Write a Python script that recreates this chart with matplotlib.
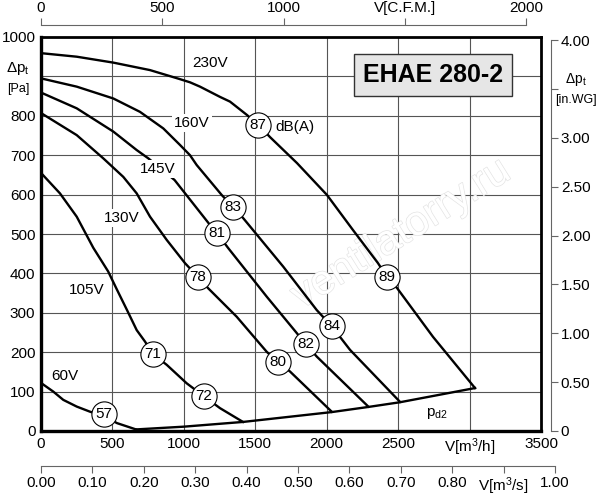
import matplotlib
matplotlib.use("Agg")
import matplotlib.pyplot as plt
import matplotlib.patheffects as pe

plt.rcParams['font.family'] = ['Liberation Sans', 'DejaVu Sans']
plt.rcParams['mathtext.fontset'] = 'custom'
plt.rcParams['mathtext.rm'] = 'Liberation Sans'
plt.rcParams['mathtext.it'] = 'Liberation Sans:italic'

# Kennlinien (V in m3/h, dp in Pa)
v230_x = [0, 250, 506, 763, 973, 1043, 1113, 1253, 1323, 1442, 1521, 1603, 1792, 2002,
          2184, 2359, 2422, 2492, 2744, 3038]
v230_y = [959, 950, 935, 916, 893, 885, 874, 848, 836, 802, 777, 746, 680, 599,
          510, 426, 391, 363, 239, 109]
v160_x = [0, 250, 506, 693, 856, 973, 1043, 1090, 1265, 1344, 1416, 1696, 1930, 2035, 2163, 2513]
v160_y = [895, 874, 844, 810, 768, 726, 700, 675, 599, 569, 540, 417, 307, 266, 206, 74]
v145_x = [0, 250, 506, 670, 751, 935, 1183, 1232, 1311, 1580, 1853, 1930, 2291]
v145_y = [859, 819, 760, 713, 692, 637, 523, 502, 464, 341, 221, 189, 62]
v130_x = [0, 250, 436, 576, 670, 763, 880, 1008, 1099, 1171, 1370, 1580, 1659, 1743, 2035]
v130_y = [807, 751, 692, 645, 603, 544, 485, 426, 391, 362, 290, 201, 175, 151, 49]
v105_x = [0, 133, 250, 366, 470, 530, 602, 670, 728, 784, 880, 1020, 1141, 1253, 1414]
v105_y = [655, 603, 544, 465, 405, 360, 307, 256, 227, 195, 168, 121, 88, 58, 23]
v60_x = [0, 86, 156, 250, 343, 441, 532, 665]
v60_y = [122, 100, 79, 62, 49, 38, 20, 4]
pd2_x = [665, 1000, 1414, 2035, 2291, 2513, 3038]
pd2_y = [4, 11, 23, 48, 61, 73, 109]

curves = [(v230_x, v230_y), (v160_x, v160_y), (v145_x, v145_y),
          (v130_x, v130_y), (v105_x, v105_y), (v60_x, v60_y), (pd2_x, pd2_y)]

# Spannungsbeschriftungen
volt_labels = ["230V", "160V", "145V", "130V", "105V", "60V"]
volt_x = [1183, 1057, 819, 567, 322, 168]
volt_y = [934, 782, 665, 541, 358, 139]

# Schallpegel dB(A)
db_labels = ["87", "83", "81", "78", "71", "72", "57", "80", "82", "84", "89"]
db_x = [1521, 1344, 1232, 1099, 784, 1141, 441, 1657, 1853, 2035, 2422]
db_y = [777, 569, 502, 391, 195, 88, 43, 174, 221, 266, 391]

x_ticks = [0, 500, 1000, 1500, 2000, 2500, 3000, 3500]
x_ticklabels = ["0", "500", "1000", "1500", "2000", "2500", "V[m$^3$/h]", "3500"]
y_ticks = [0, 100, 200, 300, 400, 500, 600, 700, 800, 900, 1000]
y_ticklabels = ["0", "100", "200", "300", "400", "500", "600", "700", "800", "", "1000"]
cfm_ticks = [0, 500, 1000, 1500, 2000]
cfm_ticklabels = ["0", "500", "1000", "V[C.F.M.]", "2000"]
ms_ticks = [0.0, 0.1, 0.2, 0.3, 0.4, 0.5, 0.6, 0.7, 0.8, 0.9, 1.0]
ms_ticklabels = ["0.00", "0.10", "0.20", "0.30", "0.40", "0.50", "0.60", "0.70",
                 "0.80", "V[m$^3$/s]", "1.00"]
wg_ticks = [0, 0.5, 1.0, 1.5, 2.0, 2.5, 3.0, 3.5, 4.0]
wg_ticklabels = ["0", "0.50", "1.00", "1.50", "2.00", "2.50", "3.00", "", "4.00"]

W, H = 600, 500
fig = plt.figure(figsize=(6, 5), dpi=100)
ax = fig.add_axes([41 / W, 69 / H, 500 / W, 394 / H])
ax.set_xlim(0, 3500)
ax.set_ylim(0, 1000)

for xv in [500, 1000, 1500, 2000, 2500, 3000]:
    ax.axvline(xv, color="#555555", lw=0.8, zorder=1)
for yv in [100, 200, 300, 400, 500, 600, 700, 800, 900]:
    ax.axhline(yv, color="#555555", lw=0.8, zorder=1)

# Wasserzeichen
ax.text(2520, 500, "ventilatorry.ru", rotation=32, fontsize=30, color="white",
        ha="center", va="center", zorder=1.5,
        path_effects=[pe.withStroke(linewidth=1.0, foreground="#e4e4e4")])

for cx, cy in curves:
    ax.plot(cx, cy, color="black", lw=1.7, zorder=3, solid_joinstyle="round")

for t, tx, ty in zip(volt_labels, volt_x, volt_y):
    ax.text(tx, ty, t, fontsize=11, ha="center", va="center", zorder=4,
            bbox=dict(boxstyle="square,pad=0.15", fc="white", ec="none"))

ax.scatter(db_x, db_y, s=330, facecolor="white", edgecolor="black", lw=0.8, zorder=5)
for t, tx, ty in zip(db_labels, db_x, db_y):
    ax.text(tx, ty, t, fontsize=11, ha="center", va="center", zorder=6)
ax.text(1640, 772, "dB(A)", fontsize=11, ha="left", va="center", zorder=4,
        bbox=dict(boxstyle="square,pad=0.1", fc="white", ec="none"))
ax.text(2770, 45, "p$_\\mathrm{d2}$", fontsize=11, ha="center", va="center", zorder=4)

ax.text(2744, 903, "EHAE 280-2", fontsize=18, fontweight="bold", ha="center",
        va="center", zorder=6,
        bbox=dict(boxstyle="square,pad=0.35", fc="#e6e6e6", ec="#333333", lw=1))

ax.set_xticks(x_ticks)
ax.set_xticklabels(x_ticklabels)
ax.set_yticks(y_ticks)
ax.set_yticklabels(y_ticklabels)
ax.tick_params(length=0, labelsize=11, pad=4)
for s, w in [("left", 2.4), ("bottom", 2.4), ("top", 2.0), ("right", 2.0)]:
    ax.spines[s].set_linewidth(w)
ax.text(-80, 920, "Δp$_\\mathrm{t}$", fontsize=11, ha="right", va="center", clip_on=False)
ax.text(-80, 868, "[Pa]", fontsize=9, ha="right", va="center", clip_on=False)

# obere Achse C.F.M.
ax_top = fig.add_axes([41 / W, (H - 25) / H, 485 / W, 1e-4])
ax_top.set_xlim(0, 2000)
ax_top.set_yticks([])
for s in ["left", "right", "bottom"]:
    ax_top.spines[s].set_visible(False)
ax_top.spines["top"].set_color("#666666")
ax_top.spines["top"].set_linewidth(0.8)
ax_top.xaxis.tick_top()
ax_top.set_xticks(cfm_ticks)
ax_top.set_xticklabels(cfm_ticklabels)
ax_top.tick_params(axis="x", direction="out", length=5, width=0.8, color="#666666",
                   labelsize=11, pad=2)

# untere Achse m3/s
ax_ms = fig.add_axes([41 / W, (H - 466) / H, 514 / W, 1e-4])
ax_ms.set_xlim(0, 1.0)
ax_ms.set_yticks([])
for s in ["left", "right", "top"]:
    ax_ms.spines[s].set_visible(False)
ax_ms.spines["bottom"].set_color("#666666")
ax_ms.spines["bottom"].set_linewidth(0.8)
ax_ms.set_xticks(ms_ticks)
ax_ms.set_xticklabels(ms_ticklabels)
ax_ms.tick_params(axis="x", direction="out", length=5, width=0.8, color="#666666",
                  labelsize=11, pad=2)

# rechte Achse in.WG
ax_wg = fig.add_axes([551 / W, 69 / H, 1e-4, 391 / H])
ax_wg.set_ylim(0, 4.0)
ax_wg.set_xticks([])
for s in ["left", "top", "bottom"]:
    ax_wg.spines[s].set_visible(False)
ax_wg.spines["right"].set_color("#666666")
ax_wg.spines["right"].set_linewidth(0.8)
ax_wg.yaxis.tick_right()
ax_wg.set_yticks(wg_ticks)
ax_wg.set_yticklabels(wg_ticklabels)
ax_wg.tick_params(axis="y", direction="out", length=5, width=0.8, color="#666666",
                  labelsize=11, pad=2)
fig.text(576 / W, (H - 80) / H, "Δp$_\\mathrm{t}$", fontsize=10, ha="center", va="center")
fig.text(576 / W, (H - 100) / H, "[in.WG]", fontsize=9, ha="center", va="center")

fig.savefig("out.png", dpi=100)
